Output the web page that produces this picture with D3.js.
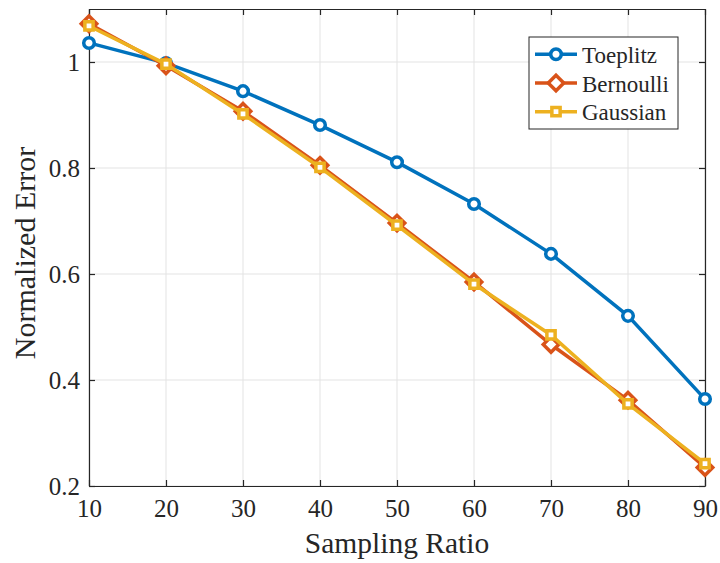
<!DOCTYPE html>
<html lang="en">
<head>
<meta charset="UTF-8">
<title>Normalized Error vs Sampling Ratio</title>
<script src="https://d3js.org/d3.v7.min.js"></script>
<style>
    body { margin: 0; background: #fff; }
    svg text { font-family: "Liberation Serif", "Times New Roman", serif; fill: #262626; }
</style>
</head>
<body>
<svg id="canvas" width="720" height="563"></svg>
<script>
    // data
    let ratios = [10, 20, 30, 40, 50, 60, 70, 80, 90];
    let toeplitz = [1.036, 0.998, 0.945, 0.881, 0.811, 0.732, 0.638, 0.521, 0.364];
    let bernoulli = [1.072, 0.993, 0.907, 0.805, 0.696, 0.585, 0.467, 0.362, 0.235];
    let gaussian = [1.068, 0.996, 0.902, 0.801, 0.692, 0.581, 0.485, 0.355, 0.242];
    let seriesNames = ["Toeplitz", "Bernoulli", "Gaussian"];
    let yTicks = [0.2, 0.4, 0.6, 0.8, 1];

    let serif = '"Liberation Serif", "Times New Roman", serif';
    let svg = d3.select('svg');
    let plotLeft = 89, plotRight = 705, plotTop = 9, plotBottom = 486;

    let x = d3.scaleLinear().domain([10, 90]).range([plotLeft, plotRight]);
    let y = d3.scaleLinear().domain([0.2, 1.1]).range([plotBottom, plotTop]);

    // grid
    let grid = svg.append('g');
    grid.selectAll('line.gx').data(ratios).enter().append('line')
        .attr('x1', d => x(d)).attr('x2', d => x(d))
        .attr('y1', plotTop).attr('y2', plotBottom)
        .attr('stroke', '#e3e3e3').attr('stroke-width', 1);
    grid.selectAll('line.gy').data(yTicks).enter().append('line')
        .attr('x1', plotLeft).attr('x2', plotRight)
        .attr('y1', d => y(d)).attr('y2', d => y(d))
        .attr('stroke', '#e3e3e3').attr('stroke-width', 1);

    // axes, ticks inward (MATLAB style box)
    svg.append('g').attr('transform', `translate(0,${plotBottom})`)
        .call(d3.axisBottom(x).tickValues(ratios).tickSizeInner(-6).tickSizeOuter(0))
        .call(g => g.selectAll('text').attr('y', 31).attr('dy', 0));
    svg.append('g').attr('transform', `translate(0,${plotTop})`)
        .call(d3.axisTop(x).tickValues(ratios).tickSizeInner(-6).tickSizeOuter(0).tickFormat(''));
    svg.append('g').attr('transform', `translate(${plotLeft},0)`)
        .call(d3.axisLeft(y).tickValues(yTicks).tickFormat(d3.format('')).tickSizeInner(-6).tickSizeOuter(0))
        .call(g => g.selectAll('text').attr('x', -9).attr('dy', '0.34em'));
    svg.append('g').attr('transform', `translate(${plotRight},0)`)
        .call(d3.axisRight(y).tickValues(yTicks).tickSizeInner(-6).tickSizeOuter(0).tickFormat(''));
    svg.selectAll('.domain, .tick line').attr('stroke', '#262626').attr('stroke-width', 1.2);
    svg.selectAll('.tick text').style('font-family', serif).style('font-size', '25px').style('fill', '#262626');

    // axis labels
    svg.append('text').attr('x', (plotLeft + plotRight) / 2).attr('y', 553)
        .attr('text-anchor', 'middle').style('font-family', serif).style('font-size', '29.5px').text('Sampling Ratio');
    svg.append('text').attr('transform', 'translate(35,253) rotate(-90)')
        .attr('text-anchor', 'middle').style('font-family', serif).style('font-size', '30px').text('Normalized Error');

    // MATLAB-like diamond (square rotated 45 degrees)
    let diamond = {
        draw(ctx, size) {
            let r = Math.sqrt(size / 2);
            ctx.moveTo(0, -r); ctx.lineTo(r, 0); ctx.lineTo(0, r); ctx.lineTo(-r, 0); ctx.closePath();
        }
    };

    let colors = ['#0072BD', '#D95319', '#EDB120'];
    let allSeries = [toeplitz, bernoulli, gaussian];
    let markers = [d3.symbolCircle, diamond, d3.symbolSquare];
    let markerSizes = [88, 120, 68];

    let line = d3.line().x((d, i) => x(ratios[i])).y(d => y(d));
    let plot = svg.append('g');
    allSeries.forEach((vals, s) => {
        let g = plot.append('g');
        g.append('path').attr('d', line(vals))
            .attr('fill', 'none').attr('stroke', colors[s]).attr('stroke-width', 3.5);
        g.selectAll('path.m').data(vals).enter().append('path')
            .attr('class', 'm')
            .attr('d', d3.symbol().type(markers[s]).size(markerSizes[s]))
            .attr('transform', (d, i) => `translate(${x(ratios[i])},${y(d)})`)
            .attr('fill', 'white').attr('stroke', colors[s]).attr('stroke-width', 3.5);
    });

    // legend
    let legend = svg.append('g');
    legend.append('rect').attr('x', 529).attr('y', 37).attr('width', 149).attr('height', 92)
        .attr('fill', 'white').attr('stroke', '#262626').attr('stroke-width', 1);
    seriesNames.forEach((name, s) => {
        let ly = 54.3 + s * 28.7;
        legend.append('line').attr('x1', 535).attr('x2', 577).attr('y1', ly).attr('y2', ly)
            .attr('stroke', colors[s]).attr('stroke-width', 3.5);
        legend.append('path').attr('d', d3.symbol().type(markers[s]).size(markerSizes[s])())
            .attr('transform', `translate(556,${ly})`)
            .attr('fill', 'white').attr('stroke', colors[s]).attr('stroke-width', 3.5);
        legend.append('text').attr('x', 582).attr('y', ly + 8.5)
            .style('font-family', serif).style('font-size', '23px').text(name);
    });
</script>
</body>
</html>
